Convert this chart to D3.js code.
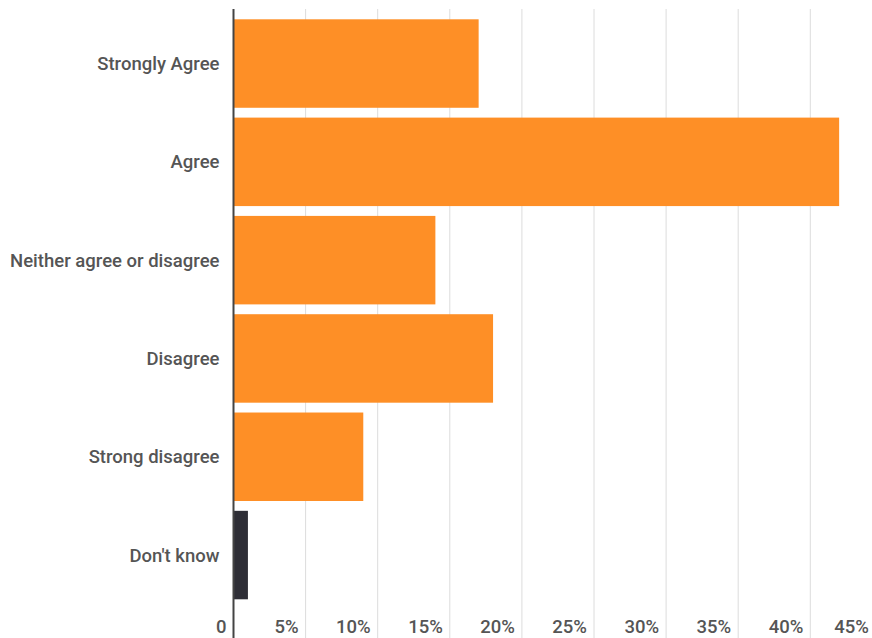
<!DOCTYPE html>
<html lang="en">
<head>
    <meta charset="UTF-8">
    <title>Agreement survey</title>
    <style>
        body { margin: 0; background: #fff; }
        svg text { font-family: Roboto, "Open Sans", sans-serif; font-weight: 500; fill: #555; }
    </style>
</head>
<body>
    <script src="https://d3js.org/d3.v7.min.js"></script>
    <div id="chart"></div>
    <script>
        const categories = ["Strongly Agree", "Agree", "Neither agree or disagree", "Disagree", "Strong disagree", "Don't know"];
        const values = [17, 42, 14, 18, 9, 1];
        const barColors = ["#fe8f26", "#fe8f26", "#fe8f26", "#fe8f26", "#fe8f26", "#2e2e36"];
        const ticks = [0, 5, 10, 15, 20, 25, 30, 35, 40, 45];

        const width = 872;
        const height = 638;
        const margin = { top: 9, left: 233.5 };

        const svg = d3.select("#chart").append("svg")
            .attr("width", width)
            .attr("height", height);

        const x = d3.scaleLinear()
            .domain([0, 45])
            .range([margin.left, margin.left + 9 * 72.1]);

        const y = d3.scaleBand()
            .domain(categories)
            .range([19.3, 599.3])
            .paddingInner(0.1)
            .paddingOuter(0);

        // gridlines
        svg.append("g")
            .selectAll("line")
            .data(ticks.slice(1))
            .enter().append("line")
            .attr("x1", d => x(d))
            .attr("x2", d => x(d))
            .attr("y1", margin.top)
            .attr("y2", height)
            .attr("stroke", "#dcdcdc")
            .attr("stroke-width", 1);

        // bars
        svg.append("g")
            .selectAll("rect")
            .data(values)
            .enter().append("rect")
            .attr("x", x(0))
            .attr("y", (d, i) => y(categories[i]))
            .attr("width", d => x(d) - x(0))
            .attr("height", y.bandwidth())
            .attr("fill", (d, i) => barColors[i]);

        // axis line
        svg.append("line")
            .attr("x1", x(0))
            .attr("x2", x(0))
            .attr("y1", margin.top)
            .attr("y2", height)
            .attr("stroke", "#444")
            .attr("stroke-width", 2);

        // category labels
        svg.append("g")
            .selectAll("text")
            .data(categories)
            .enter().append("text")
            .attr("x", x(0) - 14)
            .attr("y", d => y(d) + y.bandwidth() / 2)
            .attr("dy", "0.35em")
            .attr("text-anchor", "end")
            .style("font-size", "18.5px")
            .text(d => d);

        // tick labels (last one kept inside the page)
        svg.append("g")
            .selectAll("text")
            .data(ticks)
            .enter().append("text")
            .attr("x", d => Math.min(x(d) - 7, width - 3))
            .attr("y", 627)
            .attr("dy", "0.35em")
            .attr("text-anchor", "end")
            .style("font-size", "18.5px")
            .text(d => d === 0 ? "0" : d + "%");
    </script>
</body>
</html>
